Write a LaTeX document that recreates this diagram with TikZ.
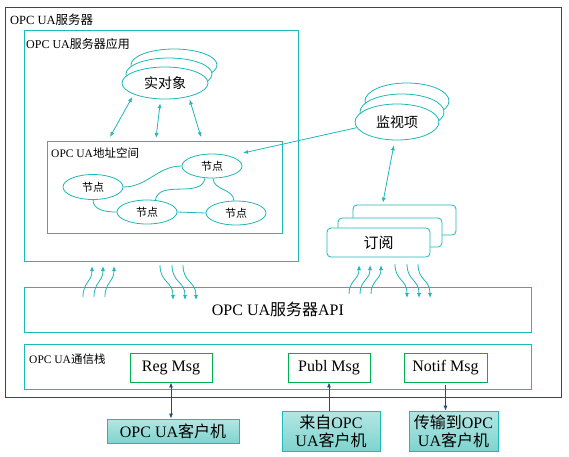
\documentclass[tikz,border=0pt]{standalone}
\usepackage{fontspec}
\setmainfont{Liberation Serif}
\newfontfamily\cjk{Noto Sans CJK SC}
\usepackage{xcolor}
\usetikzlibrary{shapes.geometric,arrows.meta}
\definecolor{UATeal}{HTML}{1DB8B8}
\definecolor{UANavy}{HTML}{1F4E79}
\definecolor{UAGreen}{HTML}{00B050}
\definecolor{UAFillTop}{HTML}{B4E6E3}
\definecolor{UAFillBot}{HTML}{7ED4CF}
\newcommand{\zh}[1]{{\cjk #1}}
\newcommand{\fs}[1]{\fontsize{#1}{#1}\selectfont}

\begin{document}
\begin{tikzpicture}[x=1pt,y=-1pt,
  frame/.style={draw=UATeal,line width=.8pt,anchor=north west,inner sep=0pt},
  oval/.style={ellipse,draw=UATeal,fill=white,line width=.8pt,inner sep=0pt},
  card/.style={rectangle,rounded corners=4pt,draw=UATeal,fill=white,line width=.8pt,inner sep=0pt},
  msgbox/.style={draw=UAGreen,fill=white,line width=.8pt,inner sep=0pt,
    minimum height=29pt,font=\fs{16}},
  client/.style={draw=UATeal,top color=UAFillTop,bottom color=UAFillBot,line width=.8pt,
    inner sep=0pt,align=center,font=\fontsize{16}{18}\selectfont},
  caption/.style={anchor=base west,inner sep=0pt},
  link/.style={UATeal,line width=.8pt},
  twoway/.style={UATeal,line width=.8pt,{Latex[length=5pt,width=4pt]}-{Latex[length=5pt,width=4pt]}},
  oneway/.style={UATeal,line width=.8pt,-{Latex[length=5pt,width=4pt]}},
  navyway/.style={UANavy,line width=.8pt,-{Latex[length=5pt,width=4pt]}}]
\path[use as bounding box] (0,0) rectangle (569,456);
\fill[white] (0,0) rectangle (569,456);

% server frame and its inner frames
\node[frame,draw=UANavy,line width=1pt,minimum width=556pt,minimum height=390pt] (server) at (5,7) {};
\node[caption] at (10,24) {\fs{12.5}OPC UA\zh{服务器}};
\node[frame,minimum width=274pt,minimum height=231pt] (app) at (24,30) {};
\node[caption] at (26,48) {\fs{12}OPC UA\zh{服务器应用}};
\node[frame,minimum width=235pt,minimum height=92pt] (addr) at (47,141) {};
\node[caption] at (51,157) {\fs{11.5}OPC UA\zh{地址空间}};
\node[frame,minimum width=507pt,minimum height=45pt] (api) at (24,287) {};
\node[font=\fs{16}] at (api.center) {OPC UA\zh{服务器}API};
\node[frame,minimum width=507pt,minimum height=45pt] (stack) at (24,344) {};
\node[caption] at (29,363) {\fs{11.5}OPC UA\zh{通信栈}};

% real objects
\node[oval,minimum width=86pt,minimum height=32pt] (obj3) at (174,65) {};
\node[oval,minimum width=86pt,minimum height=32pt] (obj2) at (169,74) {};
\node[oval,minimum width=86pt,minimum height=32pt,font=\fs{14}] (obj) at (165,83) {\zh{实对象}};

% address space nodes
\node[oval,minimum width=60pt,minimum height=24pt,font=\fs{11}] (n1) at (212,166) {\zh{节点}};
\node[oval,minimum width=60pt,minimum height=25pt,font=\fs{11}] (n2) at (93,187) {\zh{节点}};
\node[oval,minimum width=60pt,minimum height=24pt,font=\fs{11}] (n3) at (147,212) {\zh{节点}};
\node[oval,minimum width=60pt,minimum height=24pt,font=\fs{11}] (n4) at (236,213) {\zh{节点}};
\draw[link] (n2.east) to[out=0,in=180] (n1.west);
\draw[link] (n1.240) to[out=-100,in=80] (n3.55);
\draw[link] (n1.275) to[out=-90,in=90] (n4.100);
\draw[link] (n2.south) to[out=-90,in=180] (n3.west);
\draw[link] (n3.east) -- (n4.west);

% monitored items and subscriptions
\node[oval,minimum width=84pt,minimum height=36pt] (mon3) at (407,101) {};
\node[oval,minimum width=84pt,minimum height=36pt] (mon2) at (402,112) {};
\node[oval,minimum width=84pt,minimum height=36pt,font=\fs{14}] (mon) at (397,122) {\zh{监视项}};
\node[card,minimum width=103pt,minimum height=30pt] (sub3) at (404.5,220) {};
\node[card,minimum width=104pt,minimum height=29pt] (sub2) at (390,232.5) {};
\node[card,minimum width=103pt,minimum height=29pt,font=\fs{15}] (sub) at (378.5,242.5) {\zh{订阅}};

% arrows inside the server
\coordinate (t1) at (110,137);
\coordinate (t2) at (156,138);
\coordinate (t3) at (201,137);
\coordinate (t4) at (243,153);
\draw[twoway,shorten <=3pt] (obj.200) -- (t1);
\draw[twoway,shorten <=4pt] (obj.255) -- (t2);
\draw[twoway,shorten <=3pt] (obj.330) -- (t3);
\draw[oneway] (mon.188) -- (t4);
\draw[twoway,shorten <=5pt,shorten >=2pt] (mon.263) -- (sub3.145);
\foreach \x in {83,94,105}
  \draw[oneway] (\x,297) .. controls (\x,282) and ({\x+9},282) .. ({\x+9},266);
\foreach \x in {160,172,183}
  \draw[oneway] (\x,265) .. controls (\x,283) and ({\x+13},281) .. ({\x+13},300);
\foreach \x in {349,360,371}
  \draw[oneway] (\x,294) .. controls (\x,280) and ({\x+10},280) .. ({\x+10},265);
\foreach \x in {395,407,418}
  \draw[oneway] (\x,264) .. controls (\x,281) and ({\x+12},279) .. ({\x+12},298);

% messages and clients
\node[msgbox,minimum width=82pt] (reg) at (171,367.5) {Reg Msg};
\node[msgbox,minimum width=82pt] (publ) at (329,367.5) {Publ Msg};
\node[msgbox,minimum width=83pt] (notif) at (445.5,367.5) {Notif Msg};
\node[client,minimum width=132pt,minimum height=24pt] (cli) at (173,431) {OPC UA\zh{客户机}};
\node[client,minimum width=98pt,minimum height=40pt] (from) at (331,431) {\zh{来自}OPC\\UA\zh{客户机}};
\node[client,minimum width=89pt,minimum height=40pt] (to) at (453.5,431) {\zh{传输到}OPC\\UA\zh{客户机}};
\draw[navyway,{Latex[length=5pt,width=4pt]}-{Latex[length=5pt,width=4pt]}] (reg.south) -- (reg.south |- cli.north);
\draw[navyway] (publ.south |- from.north) -- (publ.south);
\draw[navyway,shorten <=3pt] (notif.south) -- (notif.south |- to.north);
\end{tikzpicture}
\end{document}
